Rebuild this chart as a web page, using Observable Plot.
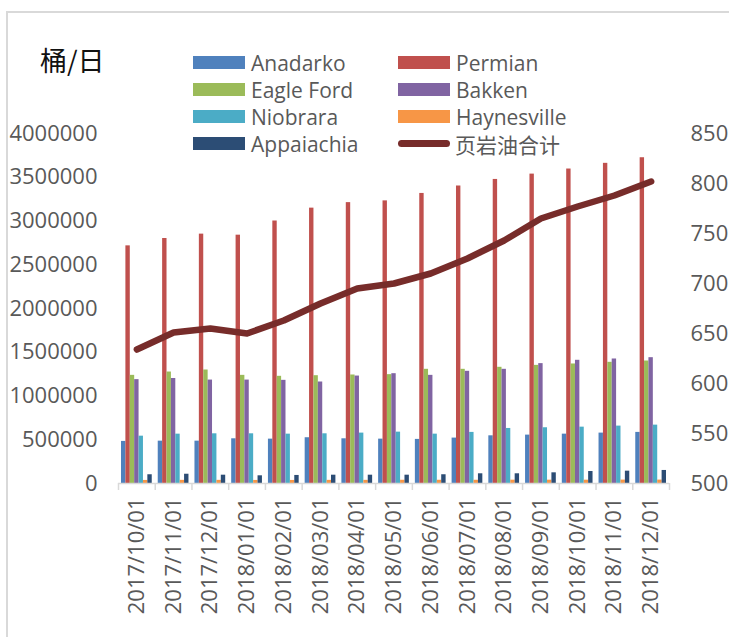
<!DOCTYPE html>
<html>
<head>
<meta charset="utf-8">
<script src="https://cdn.jsdelivr.net/npm/d3@7"></script>
<script src="https://cdn.jsdelivr.net/npm/@observablehq/plot@0.6"></script>
<style>
  body { margin: 0; background: #fff; }
  #wrap { position: relative; width: 729px; height: 637px; overflow: hidden; font-family: "Open Sans", "Noto Sans CJK SC", sans-serif; }
  #frame { position: absolute; left: 6px; top: 11px; right: -10px; bottom: -10px; border-left: 2px solid #d9d9d9; border-top: 2px solid #d9d9d9; }
  #chart { position: absolute; left: 0; top: 0; }
  #unit { position: absolute; left: 40px; top: 40px; font-size: 27px; font-family: "Noto Sans CJK SC", sans-serif; color: #111; z-index: 2; }
  .leg { position: absolute; display: flex; align-items: center; font-size: 21px; color: #595959; height: 27px; z-index: 2; white-space: nowrap; }
  .sw { width: 52px; height: 13px; margin-right: 6px; }
  .ln { width: 52px; height: 7px; border-radius: 4px; margin-right: 5px; }
  .cjk { font-family: "Noto Sans CJK SC", sans-serif; }
</style>
</head>
<body>
<div id="wrap">
  <div id="frame"></div>
  <div id="chart"></div>
  <div id="unit">桶/日</div>
</div>
<script>
// ---- data ----
const dates = ["2017/10/01","2017/11/01","2017/12/01","2018/01/01","2018/02/01","2018/03/01","2018/04/01","2018/05/01","2018/06/01","2018/07/01","2018/08/01","2018/09/01","2018/10/01","2018/11/01","2018/12/01"];
const anadarko    = [481000,484000,484000,511000,507000,523000,511000,507000,504000,519000,545000,553000,564000,576000,584000];
const permian     = [2716000,2800000,2850000,2838000,3000000,3147000,3210000,3230000,3315000,3400000,3475000,3536000,3594000,3659000,3723000];
const eagleFord   = [1236000,1274000,1297000,1236000,1225000,1232000,1240000,1244000,1305000,1305000,1328000,1350000,1366000,1385000,1400000];
const bakken      = [1187000,1200000,1182000,1182000,1179000,1160000,1228000,1255000,1236000,1282000,1305000,1370000,1408000,1423000,1438000];
const niobrara    = [541000,564000,568000,568000,564000,568000,576000,587000,564000,584000,629000,637000,644000,656000,667000];
const haynesville = [35000,36000,36000,35000,35000,36000,36000,37000,37000,37000,38000,38000,38000,39000,39000];
const appalachia  = [100000,106000,95000,88000,92000,95000,95000,95000,100000,111000,111000,122000,137000,141000,149000];
const shaleTotal  = [634,651,655,650,663,680,695,700,710,725,743,765,777,788,802];
const seriesNames = ["Anadarko","Permian","Eagle Ford","Bakken","Niobrara","Haynesville","Appaiachia"];
const lineName = "页岩油合计";
const leftTicks = [0,500000,1000000,1500000,2000000,2500000,3000000,3500000,4000000];
const rightTicks = [500,550,600,650,700,750,800,850];

const seriesValues = [anadarko, permian, eagleFord, bakken, niobrara, haynesville, appalachia];
const colors = ["#4F81BD","#C0504D","#9BBB59","#8064A2","#4BACC6","#F79646","#2C4D75"];
const lineColor = "#772C2A";

// ---- layout ----
const W = 729, H = 637, mL = 118, mR = 60, mT = 133, mB = 154;
const bw = (W - mL - mR) / dates.length;
const gap = 3;
const barW = (bw - 2 * gap) / seriesValues.length;
const rMin = 500, rMax = 850, lMax = 4000000;
const toLeft = v => (v - rMin) / (rMax - rMin) * lMax;
const fromLeft = v => Math.round(v / lMax * (rMax - rMin) + rMin);

const marks = [];
seriesValues.forEach((vals, k) => {
  const rows = dates.map((d, i) => ({date: d, value: vals[i]}));
  marks.push(Plot.barY(rows, {
    x: "date", y: "value", fill: colors[k],
    insetLeft: gap + k * barW,
    insetRight: bw - gap - (k + 1) * barW
  }));
});
const lineRows = dates.map((d, i) => ({date: d, total: shaleTotal[i]}));
marks.push(Plot.ruleY([0], {stroke: "#d9d9d9", strokeWidth: 1.5}));
marks.push(Plot.ruleX(dates, {x: d => d, y1: 0, y2: 0, dx: -bw / 2, insetBottom: -7, stroke: "#d9d9d9", strokeWidth: 1.5}));
marks.push(Plot.ruleX(dates.slice(-1), {x: d => d, y1: 0, y2: 0, dx: bw / 2, insetBottom: -7, stroke: "#d9d9d9", strokeWidth: 1.5}));
marks.push(Plot.line(lineRows, {x: "date", y: d => toLeft(d.total), stroke: lineColor, strokeWidth: 6.5, strokeLinecap: "round", strokeLinejoin: "round"}));
marks.push(Plot.axisY(leftTicks, {anchor: "left", tickSize: 0, tickPadding: 21, tickFormat: d3.format("d"), label: null}));
marks.push(Plot.axisY(rightTicks.map(toLeft), {anchor: "right", tickSize: 0, tickPadding: 21, tickFormat: d => fromLeft(d), label: null}));
marks.push(Plot.axisX({tickRotate: -90, tickSize: 0, tickPadding: 14, label: null}));

const chart = Plot.plot({
  width: W, height: H,
  marginLeft: mL, marginRight: mR, marginTop: mT, marginBottom: mB,
  x: {type: "band", domain: dates, padding: 0, round: false, axis: null},
  y: {domain: [0, lMax], axis: null},
  style: {fontSize: "22px", fontFamily: "'Open Sans', sans-serif", color: "#595959", background: "transparent"},
  marks
});
document.getElementById("chart").appendChild(chart);

// ---- legend ----
const wrap = document.getElementById("wrap");
const legPos = [[193,49],[398,49],[193,76],[398,76],[193,103],[398,103],[193,130]];
seriesNames.forEach((name, k) => {
  const el = document.createElement("div");
  el.className = "leg";
  el.style.left = legPos[k][0] + "px";
  el.style.top = legPos[k][1] + "px";
  el.innerHTML = `<div class="sw" style="background:${colors[k]}"></div><span>${name}</span>`;
  wrap.appendChild(el);
});
const lel = document.createElement("div");
lel.className = "leg";
lel.style.left = "398px";
lel.style.top = "130px";
lel.innerHTML = `<div class="ln" style="background:${lineColor}"></div><span class="cjk">${lineName}</span>`;
wrap.appendChild(lel);
</script>
</body>
</html>
